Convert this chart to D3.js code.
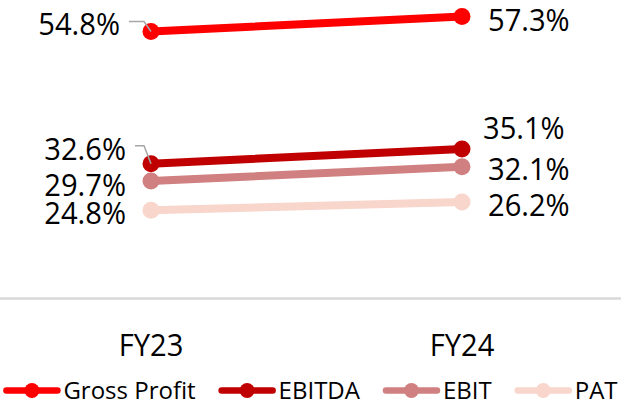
<!DOCTYPE html>
<html>
<head>
<meta charset="utf-8">
<script src="https://cdn.jsdelivr.net/npm/d3@7"></script>
<style>
  body { margin: 0; background: #fff; }
  svg { display: block; font-family: "Open Sans", "Noto Sans", sans-serif; }
</style>
</head>
<body>
<div id="chart"></div>
<script>
// data
const categories = ['FY23', 'FY24'];
const seriesNames = ['Gross Profit', 'EBITDA', 'EBIT', 'PAT'];
const grossProfit = [54.8, 57.3];
const ebitda = [32.6, 35.1];
const ebit = [29.7, 32.1];
const pat = [24.8, 26.2];

const seriesValues = [grossProfit, ebitda, ebit, pat];
const colors = ['#ff0000', '#c00000', '#d08080', '#f8d6cb'];

// label baseline nudges (left / right of the points), in px
const leftDy = [4, -4, 14.5, 13.7];
const rightDy = [14, -10, 13.7, 13.6];
const leftEnd = [120, 126, 126, 126];
const rightStart = [488, 483, 488, 488];

const width = 621, height = 403;
const bigFont = 31.5, squeeze = 0.925;

const svg = d3.select('#chart').append('svg')
    .attr('width', width)
    .attr('height', height);

const x = d3.scalePoint().domain(categories).range([151, 462]);
const y = d3.scaleLinear().domain([10, 60]).range([298.5, 0.5]);

function bigText(parent, str, tx, ty, anchor){
    return parent.append('text')
        .text(str)
        .attr('transform', 'translate(' + tx + ',' + ty + ') scale(' + squeeze + ',1)')
        .attr('text-anchor', anchor)
        .attr('font-size', bigFont)
        .attr('fill', '#000');
}

// category axis
svg.append('line')
    .attr('x1', 0).attr('x2', width)
    .attr('y1', y(10)).attr('y2', y(10))
    .attr('stroke', '#d9d9d9')
    .attr('stroke-width', 2.7);

categories.forEach(c => bigText(svg, c, x(c), 356, 'middle'));

const line = d3.line()
    .x((d, i) => x(categories[i]))
    .y(d => y(d));

const series = seriesNames.map((name, k) => ({name: name, values: seriesValues[k], color: colors[k], k: k}));

// draw bottom series first so gross profit sits on top
const g = svg.append('g');
series.slice().reverse().forEach(s => {
    g.append('path')
        .attr('d', line(s.values))
        .attr('fill', 'none')
        .attr('stroke', s.color)
        .attr('stroke-width', 8)
        .attr('stroke-linecap', 'round');
    g.selectAll('.pt' + s.k)
        .data(s.values)
        .enter()
        .append('circle')
        .attr('cx', (d, i) => x(categories[i]))
        .attr('cy', d => y(d))
        .attr('r', 8.5)
        .attr('fill', s.color);
});

// leader lines for the two labels pushed away from their points
[0, 1].forEach(k => {
    const px = x(categories[0]), py = y(seriesValues[k][0]);
    const ly = py + leftDy[k] - 14;
    svg.append('path')
        .attr('d', `M${leftEnd[k] + 9},${ly} L${px - 7},${ly} L${px},${py}`)
        .attr('fill', 'none')
        .attr('stroke', '#a6a6a6')
        .attr('stroke-width', 1.5);
});

// data labels
series.forEach(s => {
    bigText(svg, s.values[0].toFixed(1) + '%', leftEnd[s.k], y(s.values[0]) + leftDy[s.k], 'end');
    bigText(svg, s.values[1].toFixed(1) + '%', rightStart[s.k], y(s.values[1]) + rightDy[s.k], 'start');
});

// legend
const legend = svg.append('g');
const ly = 390.5, markW = 57, gap = 23;
let lx = 0;
series.forEach(s => {
    legend.append('line')
        .attr('x1', lx + 3).attr('x2', lx + markW - 3)
        .attr('y1', ly).attr('y2', ly)
        .attr('stroke', s.color)
        .attr('stroke-width', 6.5)
        .attr('stroke-linecap', 'round');
    legend.append('circle')
        .attr('cx', lx + markW / 2).attr('cy', ly)
        .attr('r', 7.5)
        .attr('fill', s.color);
    const t = legend.append('text')
        .text(s.name)
        .attr('x', lx + markW + 3)
        .attr('y', 398.5)
        .attr('font-size', 24)
        .attr('fill', '#000');
    lx += markW + 3 + t.node().getComputedTextLength() + gap;
});
const legendW = lx - gap;
legend.attr('transform', 'translate(' + ((width - legendW) / 2) + ',0)');
</script>
</body>
</html>
